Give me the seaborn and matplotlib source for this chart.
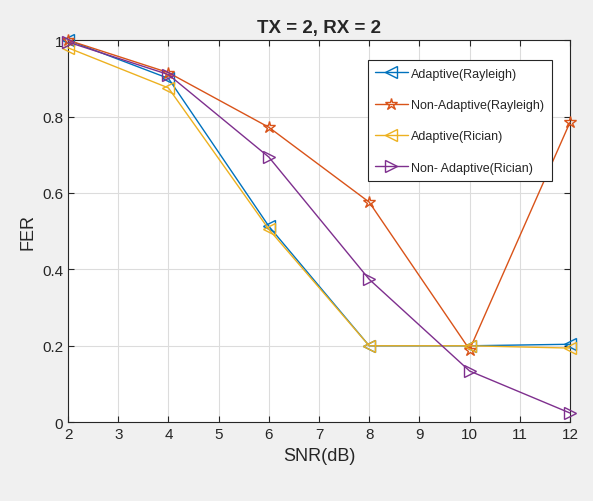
import pandas as pd
import matplotlib
matplotlib.use("Agg")
import matplotlib.pyplot as plt
import seaborn as sns

snr = [2, 4, 6, 8, 10, 12]
adaptive_rayleigh = [1.0, 0.90, 0.513, 0.20, 0.20, 0.204]
nonadaptive_rayleigh = [1.0, 0.915, 0.772, 0.576, 0.19, 0.785]
adaptive_rician = [0.98, 0.875, 0.505, 0.20, 0.20, 0.194]
nonadaptive_rician = [0.995, 0.91, 0.694, 0.374, 0.134, 0.024]

labels = ["Adaptive(Rayleigh)", "Non-Adaptive(Rayleigh)",
          "Adaptive(Rician)", "Non- Adaptive(Rician)"]
series = [adaptive_rayleigh, nonadaptive_rayleigh, adaptive_rician, nonadaptive_rician]
colors = ["#0072BD", "#D95319", "#EDB120", "#7E2F8E"]
markers = ["<", "*", "<", ">"]

sns.set_style("whitegrid")
plt.rcParams['font.family'] = ['Liberation Sans', 'DejaVu Sans']

fig = plt.figure(figsize=(5.93, 5.02), dpi=100, facecolor="#f0f0f0")
ax = fig.add_axes([0.1147, 0.157, 0.8465, 0.761])

for lab, vals, c, m in zip(labels, series, colors, markers):
    df = pd.DataFrame({"SNR": snr, "FER": vals})
    sns.lineplot(data=df, x="SNR", y="FER", ax=ax, color=c, marker=m,
                 markersize=9, fillstyle="none", markeredgecolor=c,
                 markeredgewidth=1.0, linewidth=1.0, label=lab, clip_on=False)

ax.set_xlim(2, 12)
ax.set_ylim(0, 1)
ax.set_xticks(range(2, 13))
ax.set_yticks([0, 0.2, 0.4, 0.6, 0.8, 1])
ax.set_yticklabels(["0", "0.2", "0.4", "0.6", "0.8", "1"])
ax.grid(True, color="#dcdcdc", linewidth=0.8)
for s in ax.spines.values():
    s.set_color("#262626")
    s.set_linewidth(0.8)
    s.set_zorder(1)
ax.tick_params(direction="in", length=4, colors="#262626", labelsize=11,
               top=True, right=True, left=True, bottom=True)
ax.set_xlabel("SNR(dB)", fontsize=13, color="#262626")
ax.set_ylabel("FER", fontsize=13, color="#262626")
ax.set_title("TX = 2, RX = 2", fontsize=13.5, fontweight="bold", color="#262626")

leg = ax.legend(loc="upper left", bbox_to_anchor=(0.597, 0.948), fontsize=9,
                frameon=True, fancybox=False, framealpha=1, edgecolor="#262626",
                borderpad=0.6, labelspacing=1.55, handlelength=2.6, handletextpad=0.3,
                borderaxespad=0)
leg.get_frame().set_linewidth(0.8)

fig.savefig("out.png", dpi=100, facecolor=fig.get_facecolor())
